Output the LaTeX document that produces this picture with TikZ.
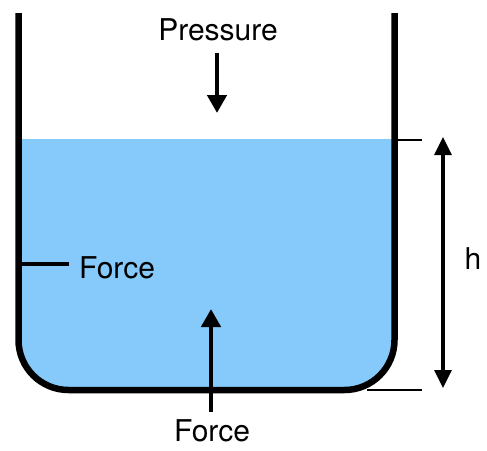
\documentclass[tikz,border=0pt]{standalone}
\usepackage{fontspec}
\setmainfont{TeX Gyre Heros}
\usetikzlibrary{arrows.meta,positioning}

\definecolor{water}{RGB}{133,202,250}

\begin{document}
\begin{tikzpicture}[x=0.5pt,y=-0.5pt,
	lbl/.style={font=\fontsize{15}{18}\selectfont, inner sep=0pt},
	wall/.style={line width=3.25pt, rounded corners=25pt},
	force/.style={line width=2.3pt, -{Triangle[length=9pt,width=9.5pt]}},
	tick/.style={line width=1pt}]
	\useasboundingbox (0,0) rectangle (487,450);
	
	% water and tank
	\fill[water] (18.5,139) [rounded corners=25pt] -- (18.5,390) -- (394.5,390) [sharp corners] -- (394.5,139) -- cycle;
	\draw[wall] (18.5,13) -- (18.5,390) -- (394.5,390) -- (394.5,13);
	
	% pressure on the surface
	\node[lbl] (pressure) at (218,30) {Pressure};
	\coordinate (ptail) at (217,53);
	\coordinate (ptip) at (217,113);
	\draw[force] (ptail) -- (ptip);
	
	% force on the bottom
	\node[lbl] (forceb) at (212,431) {Force};
	\coordinate (btip) at (211,309);
	\draw[force, shorten <=3.5pt] (forceb.north -| btip) -- (btip);
	
	% force on the side
	\node[lbl] (forcel) at (117,268) {Force};
	\coordinate (lwall) at (21,264);
	\draw[line width=1.6pt, shorten >=5pt] (lwall) -- (lwall -| forcel.west);
	
	% depth h
	\coordinate (htop) at (443,137);
	\coordinate (hbot) at (443,388);
	\draw[tick] (398,140) -- (422,140);
	\draw[tick] (367,390) -- (422,390);
	\draw[line width=1.6pt, {Triangle[length=9pt,width=8.5pt]}-{Triangle[length=9pt,width=8.5pt]}] (htop) -- (hbot);
	\node[lbl] (h) at (473,259) {h};
\end{tikzpicture}
\end{document}
